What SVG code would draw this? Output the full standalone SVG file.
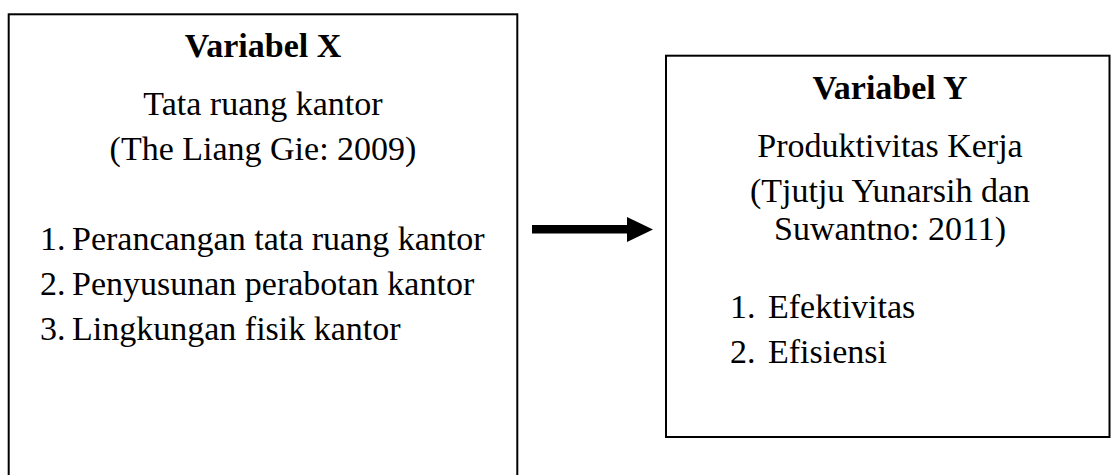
<svg xmlns="http://www.w3.org/2000/svg" width="1111" height="475" viewBox="0 0 1111 475">
<style>
.box{fill:#fff;stroke:#000;stroke-width:2}
text{font-family:"Liberation Serif","Times New Roman",serif;font-size:34px;fill:#000}
.c{text-anchor:middle}
.b{font-weight:bold}
</style>
<rect width="1111" height="475" fill="#fff"/>
<g id="variabel-x">
<rect class="box" x="8.7" y="14.3" width="508.6" height="480"/>
<text class="c b" x="263" y="57">Variabel X</text>
<text class="c" x="263" y="115">Tata ruang kantor</text>
<text class="c" x="263" y="160">(The Liang Gie: 2009)</text>
<text x="40" y="250">1.</text><text x="72" y="250">Perancangan tata ruang kantor</text>
<text x="40" y="295">2.</text><text x="72" y="295">Penyusunan perabotan kantor</text>
<text x="40" y="340">3.</text><text x="72" y="340">Lingkungan fisik kantor</text>
</g>
<g id="connectors">
<path d="M532 225 H627 V217 L653 229.5 L627 242 V233.5 H532 Z" fill="#000"/>
</g>
<g id="variabel-y">
<rect class="box" x="666" y="55.7" width="443.5" height="381.3"/>
<text class="c b" x="890" y="99">Variabel Y</text>
<text class="c" x="890" y="157">Produktivitas Kerja</text>
<text class="c" x="890" y="202">(Tjutju Yunarsih dan</text>
<text class="c" x="890" y="240">Suwantno: 2011)</text>
<text x="730" y="318">1.</text><text x="768" y="318">Efektivitas</text>
<text x="730" y="363">2.</text><text x="768" y="363">Efisiensi</text>
</g>
</svg>
